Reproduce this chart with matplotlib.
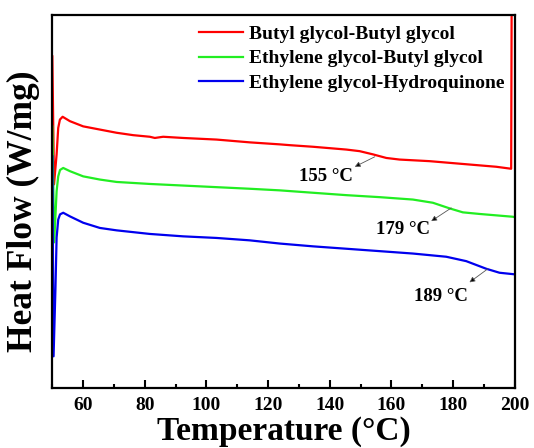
import matplotlib
matplotlib.use('Agg')
import matplotlib.pyplot as plt
from matplotlib.ticker import MultipleLocator

plt.rcParams['font.family'] = 'Liberation Serif'
plt.rcParams['font.weight'] = 'bold'

# temperatures (°C) and heat flow (arbitrary units)
t_bb = [50.0, 50.55, 51.39, 51.91, 52.46, 53.34, 55.70, 60.01, 65.42, 70.84, 76.22,
        81.63, 83.25, 85.94, 92.42, 103.24, 114.03, 123.75, 126.99, 134.54, 145.37,
        149.68, 153.99, 158.33, 162.64, 172.36, 183.15, 193.97, 198.83, 199.0]
hf_bb = [8.28, 5.08, 5.83, 6.49, 6.70, 6.77, 6.66, 6.53, 6.45, 6.37, 6.31,
         6.27, 6.24, 6.27, 6.24, 6.20, 6.13, 6.08, 6.06, 6.02, 5.95,
         5.91, 5.83, 5.74, 5.70, 5.66, 5.59, 5.52, 5.47, 10.0]

t_eb = [50.0, 50.6, 51.39, 51.91, 52.5, 53.53, 55.70, 60.01, 65.42, 70.84, 81.63,
        92.42, 103.24, 114.03, 123.75, 134.54, 145.37, 156.16, 166.95, 173.43,
        178.84, 183.15, 188.56, 199.35, 200.0]
hf_eb = [6.53, 3.63, 4.91, 5.28, 5.44, 5.49, 5.41, 5.28, 5.20, 5.14, 5.09,
         5.05, 5.01, 4.97, 4.93, 4.87, 4.81, 4.76, 4.70, 4.62,
         4.48, 4.38, 4.34, 4.27, 4.26]

t_eh = [50.0, 50.4, 51.0, 51.39, 51.91, 52.5, 53.53, 55.70, 60.01, 65.42, 70.84,
        81.63, 92.42, 103.24, 114.03, 123.75, 134.54, 145.37, 156.16, 166.95,
        177.77, 184.25, 190.73, 195.04, 200.0]
hf_eh = [5.78, 0.78, 2.45, 3.75, 4.20, 4.33, 4.37, 4.28, 4.12, 3.99, 3.93,
         3.84, 3.78, 3.74, 3.68, 3.60, 3.53, 3.47, 3.41, 3.35,
         3.27, 3.16, 2.97, 2.87, 2.83]

labels = ['Butyl glycol-Butyl glycol', 'Ethylene glycol-Butyl glycol',
          'Ethylene glycol-Hydroquinone']
colors = ['#ff0000', '#22ee22', '#0000ee']

# glass transition notes: text, text position, arrow start on curve, arrow tip
notes = [('155 °C', (138.9, 5.28), (154.6, 5.77), (148.1, 5.52)),
         ('179 °C', (163.7, 3.95), (179.4, 4.49), (172.9, 4.16)),
         ('189 °C', (176.1, 2.28), (191.3, 2.97), (185.3, 2.63))]

fig = plt.figure(figsize=(5.34, 4.48), dpi=100)
ax = fig.add_axes([0.098, 0.135, 0.866, 0.832])

ax.plot(t_bb, hf_bb, color=colors[0], lw=1.6, label=labels[0])
ax.plot(t_eb, hf_eb, color=colors[1], lw=1.6, label=labels[1])
ax.plot(t_eh, hf_eh, color=colors[2], lw=1.6, label=labels[2])

for txt, pos, src, tip in notes:
    ax.text(pos[0], pos[1], txt, fontsize=13.5, fontweight='bold', ha='center', va='center')
    ax.annotate('', xy=tip, xytext=src,
                arrowprops=dict(arrowstyle='-|>', lw=0.6, mutation_scale=8,
                                shrinkA=0, shrinkB=0, fc='black', ec='#555555'))

ax.set_xlim(50, 200)
ax.set_ylim(0, 9.32)
ax.xaxis.set_major_locator(MultipleLocator(20))
ax.xaxis.set_minor_locator(MultipleLocator(10))
ax.set_yticks([])
ax.tick_params(axis='x', which='major', direction='in', length=6, width=1.5,
               labelsize=14, pad=7)
ax.tick_params(axis='x', which='minor', direction='in', length=3, width=1.5)
for s in ax.spines.values():
    s.set_linewidth(1.6)

ax.set_xlabel('Temperature (°C)', fontsize=24, fontweight='bold', labelpad=1)
ax.set_ylabel('Heat Flow (W/mg)', fontsize=25.5, fontweight='bold')
ax.yaxis.set_label_coords(-0.027, 0.472)

leg = ax.legend(loc='upper right', frameon=False, fontsize=14, handlelength=2.26,
                handletextpad=0.31, labelspacing=0.34, borderaxespad=0.15)

fig.savefig('out.png', dpi=100)
